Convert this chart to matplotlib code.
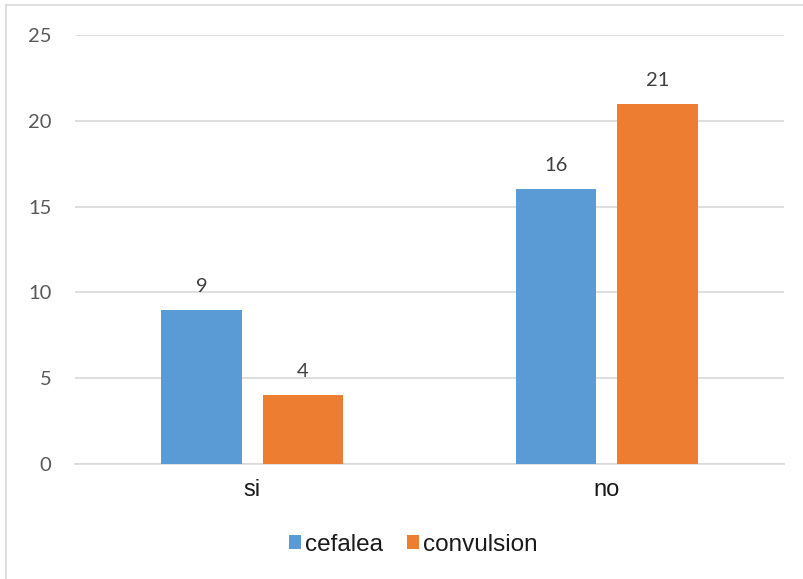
import matplotlib.pyplot as plt
from matplotlib.lines import Line2D
import numpy as np

categories = ["si", "no"]
series_names = ["cefalea", "convulsion"]
cefalea = [9, 16]
convulsion = [4, 21]
yticks = [0, 5, 10, 15, 20, 25]

colors = ["#5b9bd5", "#ed7d31"]
W, H = 804, 579
fig = plt.figure(figsize=(W / 100, H / 100), dpi=100)
ax = fig.add_axes([75 / W, 1 - 464 / H, (784 - 75) / W, (464 - 35) / H])

x = np.arange(len(categories))
bw = 0.226
off = 0.143
for vals, c, sgn, name in zip([cefalea, convulsion], colors, [-1, 1], series_names):
    bars = ax.bar(x + sgn * off, vals, width=bw, color=c, label=name, zorder=3)
    for b, v in zip(bars, vals):
        ax.annotate(str(v), (b.get_x() + b.get_width() / 2, v), xytext=(0, 13),
                    textcoords="offset points", ha="center", va="baseline",
                    fontsize=14.5, color="#404040", family="Lato")

ax.set_xlim(-0.5, 1.5)
ax.set_ylim(0, 25)
ax.set_yticks(yticks)
ax.set_yticklabels([str(t) for t in yticks], family="Lato", fontsize=14.5, color="#595959")
ax.set_xticks(x)
ax.set_xticklabels(categories, family="Liberation Sans", fontsize=17, color="#1a1a1a")
ax.tick_params(axis="y", length=0, pad=17)
ax.tick_params(axis="x", length=0, pad=11)
ax.grid(axis="y", color="#d9d9d9", linewidth=1.2, zorder=0)
for s in ["top", "right", "left"]:
    ax.spines[s].set_visible(False)
ax.spines["bottom"].set_color("#d9d9d9")
ax.spines["bottom"].set_linewidth(1.2)

leg = fig.legend(loc="center", bbox_to_anchor=(413 / W, 1 - 545 / H), ncol=2,
                 frameon=False, handlelength=0.5, handleheight=0.5, handletextpad=0.15,
                 columnspacing=1.0, prop={"family": "Liberation Sans", "size": 17.5})
for t in leg.get_texts():
    t.set_color("#1a1a1a")

# chart-area border (left and top edges)
fig.add_artist(Line2D([6 / W, 6 / W], [0, 1 - 5 / H], color="#d9d9d9", lw=1.2,
                      transform=fig.transFigure))
fig.add_artist(Line2D([6 / W, 1], [1 - 5 / H, 1 - 5 / H], color="#d9d9d9", lw=1.2,
                      transform=fig.transFigure))

fig.savefig("out.png", dpi=100)
